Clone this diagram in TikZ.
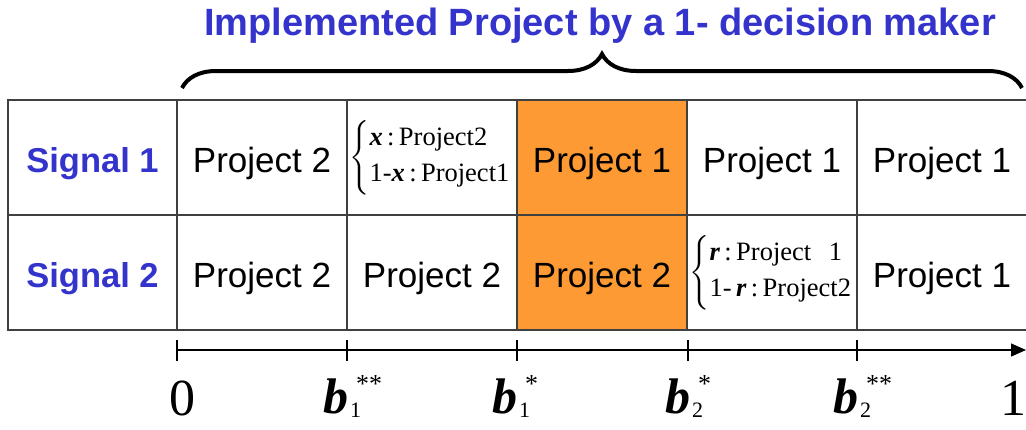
\documentclass[tikz,border=0pt]{standalone}
\usepackage{fontspec}
\setmainfont{Liberation Serif}
\setsansfont{Liberation Sans}
\usepackage{amsmath}
\usetikzlibrary{arrows.meta,decorations.pathreplacing}
\definecolor{sigblue}{RGB}{52,52,204}
\definecolor{hiorange}{RGB}{254,154,52}
\definecolor{gridc}{RGB}{64,64,64}
\newcommand{\bx}{\textbf{\textit{x}}}
\newcommand{\br}{\textbf{\textit{r}}}
\newcommand{\tallstrut}{\vrule width0pt height31pt depth31pt}
% threshold label b_i^{*}
\newcommand{\thr}[2]{\textbf{\textit{b}}\kern2pt\rlap{\raisebox{-4pt}{\fontsize{22}{22}\selectfont#1}}\kern6pt\raisebox{21pt}{\fontsize{26}{26}\selectfont#2}}
\tikzset{
  >={Triangle[length=15pt,width=13pt]},
  cell/.style  ={rectangle, draw=gridc, line width=1.2pt, minimum width=170pt,
                 minimum height=115pt, inner sep=0pt, text height=29pt, text depth=0pt,
                 font=\sffamily\fontsize{35}{35}\selectfont},
  hot/.style   ={cell, fill=hiorange},
  mix/.style   ={cell, text width=165pt, align=left, text height=, text depth=,
                 font=\fontsize{26.5}{28}\selectfont},
  sig/.style   ={cell, minimum width=169pt, text=sigblue,
                 font=\sffamily\bfseries\fontsize{34.5}{35}\selectfont},
  head/.style  ={text=sigblue, font=\sffamily\bfseries\fontsize{38}{38}\selectfont,
                 inner sep=0pt},
  brc/.style   ={decorate, decoration={brace, amplitude=34pt}, line width=4pt},
  ax/.style    ={->, line width=1.3pt},
  tick/.style  ={line width=1.1pt},
  num/.style   ={font=\fontsize{52}{52}\selectfont, inner sep=0pt, anchor=base},
  blab/.style  ={font=\fontsize{50}{50}\selectfont, inner sep=0pt, anchor=base west},
}

\begin{document}
\begin{tikzpicture}[x=1pt,y=-1pt]
\clip (0,0) rectangle (1026,429);

% ---- title and brace ------------------------------------------------
\node[head, anchor=base] (title) at (600,35) {Implemented Project by a 1- decision maker};
\draw[brc] (182,88) -- (1022,88);

% ---- signal 1 row ---------------------------------------------------
\node[sig]  (s1)   at (92.5,157.5) {Signal 1};
\node[cell] (s1b2) at (262,157.5)  {Project 2};
\node[mix]  (s1b3) at (432,157.5)
  {$\left\{\tallstrut\begin{tabular}{@{}l@{}}\bx\,:\,Project2\\[8pt] 1-\bx\,:\,Project1\end{tabular}\right.\kern-6pt$};
\node[hot]  (s1b4) at (602,157.5)  {Project 1};
\node[cell] (s1b5) at (772,157.5)  {Project 1};
\node[cell] (s1b6) at (942,157.5)  {Project 1};

% ---- signal 2 row ---------------------------------------------------
\node[sig]  (s2)   at (92.5,272.5) {Signal 2};
\node[cell] (s2b2) at (262,272.5)  {Project 2};
\node[cell] (s2b3) at (432,272.5)  {Project 2};
\node[hot]  (s2b4) at (602,272.5)  {Project 2};
\node[mix]  (s2b5) at (772,272.5)
  {$\left\{\tallstrut\begin{tabular}{@{}l@{}}\br\,:\,Project\ \ 1\\[8pt] 1-\,\br\,:\,Project2\end{tabular}\right.\kern-6pt$};
\node[cell] (s2b6) at (942,272.5)  {Project 1};

% ---- axis -----------------------------------------------------------
\coordinate (t0) at (177,350);
\coordinate (t1) at (347,350);
\coordinate (t2) at (517,350);
\coordinate (t3) at (688,350);
\coordinate (t4) at (857,350);
\coordinate (tend) at (1026,350);
\draw[ax] (t0) -- (tend);
\foreach \t in {t0,t1,t2,t3,t4}
  \draw[tick] (\t) ++(0,-10) -- ++(0,21);

\node[num]  (l0) at (182,415) {0};
\node[blab] (l1) at (323,413) {\thr{1}{**}};
\node[blab] (l2) at (492,413) {\thr{1}{*}};
\node[blab] (l3) at (665,413) {\thr{2}{*}};
\node[blab] (l4) at (833,413) {\thr{2}{**}};
\node[num, anchor=base west] (l5) at (1000,415) {1};
\end{tikzpicture}
\end{document}
